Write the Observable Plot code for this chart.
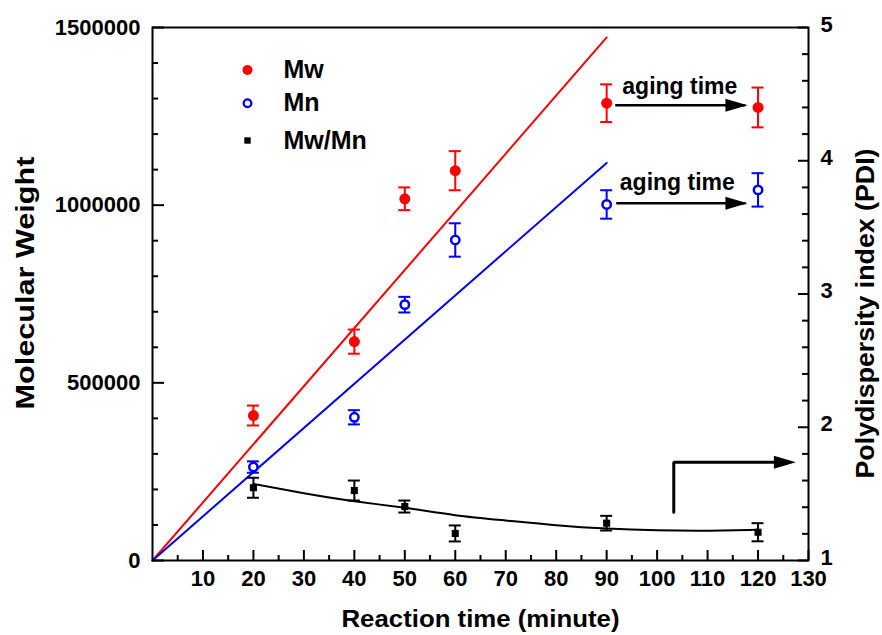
<!DOCTYPE html>
<html><head><meta charset="utf-8">
<script src="https://cdn.jsdelivr.net/npm/d3@7"></script>
<script src="https://cdn.jsdelivr.net/npm/@observablehq/plot@0.6"></script>
<style>
html,body{margin:0;padding:0;background:#fff;}
#chart{width:882px;height:635px;}
</style></head><body><div id="chart"></div>
<script>
// ---- data ----
const time = [20, 40, 50, 60, 90, 120];
const mw = [408000, 616000, 1018000, 1097000, 1287000, 1275000];
const mwErr = [28000, 34000, 32000, 55000, 53000, 56000];
const mn = [263000, 403000, 720000, 902000, 1002000, 1043000];
const mnErr = [16000, 20000, 22000, 47000, 40000, 47000];
const pdi = [1.546, 1.525, 1.405, 1.203, 1.28, 1.212];
const pdiErr = [0.075, 0.075, 0.045, 0.06, 0.055, 0.068];

const fitTime = [0, 90];
const fitMw = [0, 1472000];
const fitMn = [0, 1119000];
const pdiFitTime = [20, 30, 40, 50, 60, 70, 80, 90, 100, 110, 120];
const pdiFit = [1.575, 1.505, 1.445, 1.395, 1.34, 1.3, 1.265, 1.24, 1.227, 1.224, 1.23];

const xTicks = [10, 20, 30, 40, 50, 60, 70, 80, 90, 100, 110, 120, 130];
const xMinor = [5, 15, 25, 35, 45, 55, 65, 75, 85, 95, 105, 115, 125];
const yTicks = [0, 500000, 1000000, 1500000];
const yMinor = [100000, 200000, 300000, 400000, 600000, 700000, 800000, 900000, 1100000, 1200000, 1300000, 1400000];
const pdiTicks = [1, 2, 3, 4, 5];
const pdiMinor = [1.2, 1.4, 1.6, 1.8, 2.2, 2.4, 2.6, 2.8, 3.2, 3.4, 3.6, 3.8, 4.2, 4.4, 4.6, 4.8];

const legendLabels = ["Mw", "Mn", "Mw/Mn"];
const xTitle = "Reaction time (minute)";
const yTitle = "Molecular Weight";
const y2Title = "Polydispersity index (PDI)";

// annotations (data coordinates)
const agingLabel = "aging time";
const agingArrowStart = [91.7, 91.9];
const agingArrowEnd = [117.5, 117.5];
const agingArrowLevel = [1281000, 1005600];
const agingTextX = [104.5, 104.0];
const agingTextY = [1335000, 1064600];
const elbowTime = [103.3, 103.3, 125];
const elbowPdi = [1.362, 1.738, 1.738];
const elbowTip = [127.1, 1.738];

// ---- helpers ----
const PDI_SCALE = 1500000 / 4;
const toLeft = p => (p - 1) * PDI_SCALE;
const toPdi = v => Math.round((v / PDI_SCALE + 1) * 100) / 100;

const W = 882, H = 635, mL = 152, mR = 74, mT = 27, mB = 75;
const fw = W - mL - mR, fh = H - mT - mB;
const RED = "#ff0000", BLUE = "#0000ff", BLACK = "#000000";
const FONT = "'Liberation Sans', Arial, Helvetica, sans-serif";

const mwData = time.map((t, i) => ({t, v: mw[i], lo: mw[i] - mwErr[i], hi: mw[i] + mwErr[i]}));
const mnData = time.map((t, i) => ({t, v: mn[i], lo: mn[i] - mnErr[i], hi: mn[i] + mnErr[i]}));
const pdiData = time.map((t, i) => ({t, v: toLeft(pdi[i]), lo: toLeft(pdi[i] - pdiErr[i]), hi: toLeft(pdi[i] + pdiErr[i])}));
const fitMwData = fitTime.map((t, i) => ({t, v: fitMw[i]}));
const fitMnData = fitTime.map((t, i) => ({t, v: fitMn[i]}));
const pdiFitData = pdiFitTime.map((t, i) => ({t, v: toLeft(pdiFit[i])}));
const agingArrows = agingArrowLevel.map((lv, i) => ({x1: agingArrowStart[i], x2: agingArrowEnd[i], y: lv}));
const agingTexts = agingTextX.map((x, i) => ({x, y: agingTextY[i], label: agingLabel}));
const elbowData = elbowTime.map((t, i) => ({t, v: toLeft(elbowPdi[i])}));
const elbowHead = [{t: elbowTip[0], v: toLeft(elbowTip[1])}];

const headSymbol = {draw(ctx) { ctx.moveTo(2, 0); ctx.lineTo(-20, -6.5); ctx.lineTo(-20, 6.5); ctx.closePath(); }};

function errorBars(data, color) {
  return [
    Plot.ruleX(data, {x: "t", y1: "lo", y2: "hi", stroke: color, strokeWidth: 2}),
    Plot.ruleY(data, {y: "hi", x1: "t", x2: "t", insetLeft: -6, insetRight: -6, stroke: color, strokeWidth: 2}),
    Plot.ruleY(data, {y: "lo", x1: "t", x2: "t", insetLeft: -6, insetRight: -6, stroke: color, strokeWidth: 2})
  ];
}

const legendDY = [42.5, 75.7, 113];
const legendMarks = [
  Plot.dot([legendLabels[0]], {frameAnchor: "top-left", dx: 95, dy: legendDY[0], r: 5, fill: RED}),
  Plot.dot([legendLabels[1]], {frameAnchor: "top-left", dx: 95, dy: legendDY[1], r: 3.8, stroke: BLUE, strokeWidth: 2.3, fill: "white"}),
  Plot.dot([legendLabels[2]], {frameAnchor: "top-left", dx: 95, dy: legendDY[2], r: 3.6, symbol: "square", fill: BLACK}),
  ...legendLabels.map((lab, i) => Plot.text([lab], {frameAnchor: "top-left", dx: 131, dy: legendDY[i], text: d => d, textAnchor: "start", lineAnchor: "middle", fontSize: 25, fontWeight: "bold", fill: BLACK}))
];

const chart = Plot.plot({
  width: W, height: H,
  marginLeft: mL, marginRight: mR, marginTop: mT, marginBottom: mB,
  x: {domain: [0, 130]},
  y: {domain: [0, 1500000]},
  style: {fontFamily: FONT, fontWeight: "bold", fontSize: "22px", background: "white", color: "black", overflow: "visible"},
  marks: [
    // fit lines
    Plot.line(fitMwData, {x: "t", y: "v", stroke: RED, strokeWidth: 2}),
    Plot.line(fitMnData, {x: "t", y: "v", stroke: BLUE, strokeWidth: 2}),
    Plot.line(pdiFitData, {x: "t", y: "v", stroke: BLACK, strokeWidth: 2, curve: "natural"}),
    // error bars
    ...errorBars(mwData, RED),
    ...errorBars(mnData, BLUE),
    ...errorBars(pdiData, BLACK),
    // points
    Plot.dot(mwData, {x: "t", y: "v", r: 5.5, fill: RED}),
    Plot.dot(mnData, {x: "t", y: "v", r: 4.2, stroke: BLUE, strokeWidth: 2.5, fill: "white"}),
    Plot.dot(pdiData, {x: "t", y: "v", r: 4, symbol: "square", fill: BLACK}),
    // aging arrows
    Plot.link(agingArrows, {x1: "x1", x2: "x2", y1: "y", y2: "y", stroke: BLACK, strokeWidth: 2.5}),
    Plot.dot(agingArrows, {x: "x2", y: "y", symbol: headSymbol, r: 1, fill: BLACK, stroke: "none"}),
    Plot.text(agingTexts, {x: "x", y: "y", text: "label", fontSize: 23, fontWeight: "bold", lineAnchor: "middle", fill: BLACK}),
    // elbow arrow
    Plot.line(elbowData, {x: "t", y: "v", stroke: BLACK, strokeWidth: 3, strokeLinejoin: "miter"}),
    Plot.dot(elbowHead, {x: "t", y: "v", symbol: headSymbol, r: 1, fill: BLACK, stroke: "none"}),
    // frame
    Plot.frame({stroke: BLACK, strokeWidth: 2}),
    // ticks (inward)
    Plot.ruleX(xTicks, {x: d => d, insetTop: fh - 10, stroke: BLACK, strokeWidth: 2}),
    Plot.ruleX(xMinor, {x: d => d, insetTop: fh - 5, stroke: BLACK, strokeWidth: 2}),
    Plot.ruleY(yTicks, {y: d => d, insetRight: fw - 12, stroke: BLACK, strokeWidth: 2}),
    Plot.ruleY(yMinor, {y: d => d, insetRight: fw - 6, stroke: BLACK, strokeWidth: 2}),
    Plot.ruleY(pdiTicks.map(toLeft), {y: d => d, insetLeft: fw - 10, stroke: BLACK, strokeWidth: 2}),
    Plot.ruleY(pdiMinor.map(toLeft), {y: d => d, insetLeft: fw - 6, stroke: BLACK, strokeWidth: 2}),
    // tick labels
    Plot.axisX(xTicks, {tickSize: 0, tickPadding: 10, tickFormat: d => String(d), label: null, fontSize: 22, fontWeight: "bold"}),
    Plot.axisY(yTicks, {anchor: "left", tickSize: 0, tickPadding: 12, tickFormat: d => String(d), label: null, fontSize: 22, fontWeight: "bold"}),
    Plot.axisY(pdiTicks.map(toLeft), {anchor: "right", tickSize: 0, tickPadding: 12, dy: -3, tickFormat: d => String(toPdi(d)), label: null, fontSize: 22, fontWeight: "bold"}),
    // titles
    Plot.text([xTitle], {frameAnchor: "bottom", dy: 58.5, text: d => d, textAnchor: "middle", lineAnchor: "middle", fontSize: 24, fontWeight: "bold"}),
    Plot.text([yTitle], {frameAnchor: "left", dx: -127, dy: -11, rotate: -90, text: d => d, textAnchor: "middle", lineAnchor: "middle", fontSize: 25, fontWeight: "bold"}),
    Plot.text([y2Title], {frameAnchor: "right", dx: 57, dy: 19.5, rotate: -90, text: d => d, textAnchor: "middle", lineAnchor: "middle", fontSize: 25, fontWeight: "bold"}),
    ...legendMarks
  ]
});

const svg = d3.select(chart);
const stretch = {[xTitle]: 278, [yTitle]: 253, [y2Title]: 330};
svg.selectAll("text").each(function() {
  const len = stretch[this.textContent];
  if (len) d3.select(this).attr("textLength", len).attr("lengthAdjust", "spacingAndGlyphs");
});
document.getElementById("chart").appendChild(chart);
</script>
</body></html>
